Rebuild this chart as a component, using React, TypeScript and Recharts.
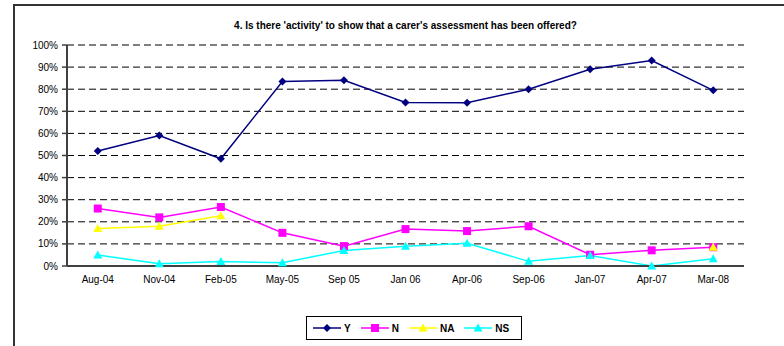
import { LineChart, Line, XAxis, YAxis, CartesianGrid, Legend } from 'recharts';

const categories = ['Aug-04', 'Nov-04', 'Feb-05', 'May-05', 'Sep 05', 'Jan 06', 'Apr-06', 'Sep-06', 'Jan-07', 'Apr-07', 'Mar-08'];
const yValues = [52, 59, 48.5, 83.5, 84, 74, 73.9, 80, 89, 93, 79.5];
const nValues = [26, 22, 26.7, 15, 9, 16.7, 15.8, 18, 5.1, 7.1, 8.5];
const naValues = [17, 18, 22.7, null, null, null, null, null, null, null, 8.5];
const nsValues = [5, 1, 2, 1.5, 7, 8.9, 10.3, 2.1, 4.8, 0, 3.3];
const yTicks = [0, 10, 20, 30, 40, 50, 60, 70, 80, 90, 100];
const bandTicks = [0, 1, 2, 3, 4, 5, 6, 7, 8, 9, 10, 11];

const data = categories.map((c, i) => ({
    name: c,
    idx: i + 0.5,
    Y: yValues[i],
    N: nValues[i],
    NA: naValues[i],
    NS: nsValues[i],
}));

const FONT = '"Liberation Sans", Arial, sans-serif';

type Shape = 'diamond' | 'square' | 'triangle';

const markerPath = (shape: Shape, cx: number, cy: number) => {
    if (shape === 'diamond') return `M${cx} ${cy - 4}L${cx + 4} ${cy}L${cx} ${cy + 4}L${cx - 4} ${cy}Z`;
    if (shape === 'square') return `M${cx - 4} ${cy - 4}H${cx + 4}V${cy + 4}H${cx - 4}Z`;
    return `M${cx} ${cy - 4.5}L${cx + 4.5} ${cy + 3.5}L${cx - 4.5} ${cy + 3.5}Z`;
};

const makeDot = (shape: Shape, color: string) => (props: any) => {
    const { cx, cy, index, value } = props;
    if (cx == null || cy == null || value == null || (Array.isArray(value) && value[1] == null)) {
        return <g key={`d-${index}`} />;
    }
    return <path key={`d-${index}`} d={markerPath(shape, cx, cy)} fill={color} />;
};

const series = [
    { key: 'Y', color: '#000080', shape: 'diamond' as Shape },
    { key: 'N', color: '#FF00FF', shape: 'square' as Shape },
    { key: 'NA', color: '#FFFF00', shape: 'triangle' as Shape },
    { key: 'NS', color: '#00FFFF', shape: 'triangle' as Shape },
];

const LegendBox = () => (
    <div style={{ border: '1px solid #000', height: 22, display: 'flex', alignItems: 'center', paddingLeft: 6, fontFamily: FONT, fontSize: 10, fontWeight: 'bold', background: '#fff' }}>
        {series.map(s => (
            <div key={s.key} style={{ display: 'flex', alignItems: 'center', marginRight: 10 }}>
                <svg width={28} height={10}>
                    <line x1={0} y1={5} x2={28} y2={5} stroke={s.color} strokeWidth={1.5} />
                    <path d={markerPath(s.shape, 14, 5)} fill={s.color} />
                </svg>
                <span style={{ marginLeft: 3 }}>{s.key}</span>
            </div>
        ))}
    </div>
);

const App = () => {
    return (
        <div style={{ position: 'absolute', left: 0, top: 0, width: 784, height: 346, overflow: 'hidden', background: '#fff', fontFamily: FONT }}>
            <div style={{ position: 'absolute', left: 13, top: 4, width: 820, height: 400, border: '2px solid #333', boxSizing: 'border-box' }} />
            <div style={{ position: 'absolute', left: 67, width: 677, top: 20, textAlign: 'center', fontSize: 10, fontWeight: 'bold', color: '#000' }}>
                4. Is there 'activity' to show that a carer's assessment has been offered?
            </div>
            <div style={{ position: 'absolute', left: 0, top: 0 }}>
                <LineChart width={784} height={346} data={data} margin={{ top: 45, right: 40, left: 0, bottom: 50 }}>
                    <CartesianGrid vertical={false} stroke="#000" strokeDasharray="7 4" />
                    <XAxis xAxisId="band" dataKey="idx" type="number" domain={[0, 11]} ticks={bandTicks} height={0}
                        tick={false} axisLine={false} tickLine={{ stroke: '#404040', strokeWidth: 1.5 }} tickSize={5} />
                    <XAxis dataKey="name" scale="band" height={30} interval={0} tickLine={false} tickSize={4} tickMargin={6}
                        axisLine={{ stroke: '#404040', strokeWidth: 2 }}
                        tick={{ fill: '#000', fontSize: 10, fontFamily: FONT }} />
                    <XAxis xAxisId="top" orientation="top" dataKey="name" scale="band" height={0} tick={false} tickLine={false}
                        axisLine={{ stroke: '#808080', strokeWidth: 1 }} />
                    <YAxis domain={[0, 100]} ticks={yTicks} interval={0} width={67} tickSize={5} tickMargin={4}
                        tickFormatter={(v: number) => `${v}%`}
                        axisLine={{ stroke: '#404040', strokeWidth: 2 }}
                        tickLine={{ stroke: '#404040', strokeWidth: 1.5 }}
                        tick={{ fill: '#000', fontSize: 10, fontFamily: FONT }} />
                    <YAxis yAxisId="r" orientation="right" domain={[0, 100]} width={0} tick={false} tickLine={false}
                        axisLine={{ stroke: '#808080', strokeWidth: 1.5 }} />
                    {series.map(s => (
                        <Line key={s.key} type="linear" dataKey={s.key} stroke={s.color} strokeWidth={1.5}
                            dot={makeDot(s.shape, s.color)} activeDot={false} isAnimationActive={false} />
                    ))}
                    <Legend layout="horizontal" verticalAlign="middle" align="center" content={LegendBox}
                        wrapperStyle={{ top: 316, left: 306, width: 216, height: 24 }} />
                </LineChart>
            </div>
        </div>
    );
};

export default App;
